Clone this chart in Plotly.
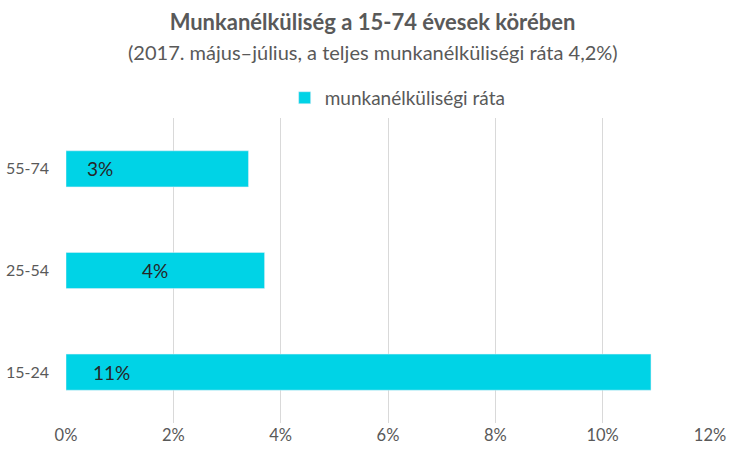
import plotly.graph_objects as go

# age groups, bottom to top
age_groups = ["15-24", "25-54", "55-74"]
rates = [10.9, 3.7, 3.4]
label_texts = ["11%", "4%", "3%"]
tick_vals = [0, 2, 4, 6, 8, 10, 12]
tick_texts = ["0%", "2%", "4%", "6%", "8%", "10%", "12%"]

FONT = "Lato"
GREY = "#595959"
label_x = [0.84, 1.65, 0.63]  # where the labels sit inside the bars

fig = go.Figure()
fig.add_trace(go.Bar(
    x=rates, y=age_groups, orientation="h",
    name="munkanélküliségi ráta",
    marker=dict(color="#00D3E6"),
))

for x, y, t in zip(label_x, age_groups, label_texts):
    fig.add_annotation(x=x, y=y, xref="x", yref="y", text=t, showarrow=False,
                       font=dict(family=FONT, size=19, color="#262626"))

# subtitle, centred on the whole figure
fig.add_annotation(x=(372.5 - 66) / 644, xref="paper", xanchor="center", y=1 + 66 / 305, yref="paper",
                   yanchor="middle", showarrow=False,
                   text="(2017. május–július, a teljes munkanélküliségi ráta 4,2%)",
                   font=dict(family=FONT, size=20, color=GREY))

fig.update_layout(
    width=745, height=467,
    margin=dict(l=66, r=35, t=118, b=44),
    paper_bgcolor="white", plot_bgcolor="white",
    font=dict(family=FONT, color=GREY),
    title=dict(
        text="<b>Munkanélküliség a 15-74 évesek körében</b>",
        x=0.5, xanchor="center", xref="container",
        y=1 - 22 / 467, yanchor="middle", yref="container",
        font=dict(family=FONT, size=22, color=GREY),
    ),
    bargap=0.645,
    showlegend=True,
    legend=dict(orientation="h", x=0.515, xanchor="center", y=1.066, yanchor="middle",
                itemwidth=30, font=dict(family=FONT, size=19, color=GREY)),
    xaxis=dict(range=[0, 12], tickvals=tick_vals, ticktext=tick_texts, automargin=False,
               showgrid=True, gridcolor="#D9D9D9", gridwidth=1, zeroline=False,
               showline=False, ticks="", tickfont=dict(family=FONT, size=16.5, color=GREY)),
    yaxis=dict(showgrid=False, showline=False, ticks="", ticklabelstandoff=16, automargin=False,
               tickfont=dict(family=FONT, size=16, color=GREY)),
)

fig.write_html("out.html", config={"displayModeBar": False},
               post_script="document.body.style.margin='0';")
